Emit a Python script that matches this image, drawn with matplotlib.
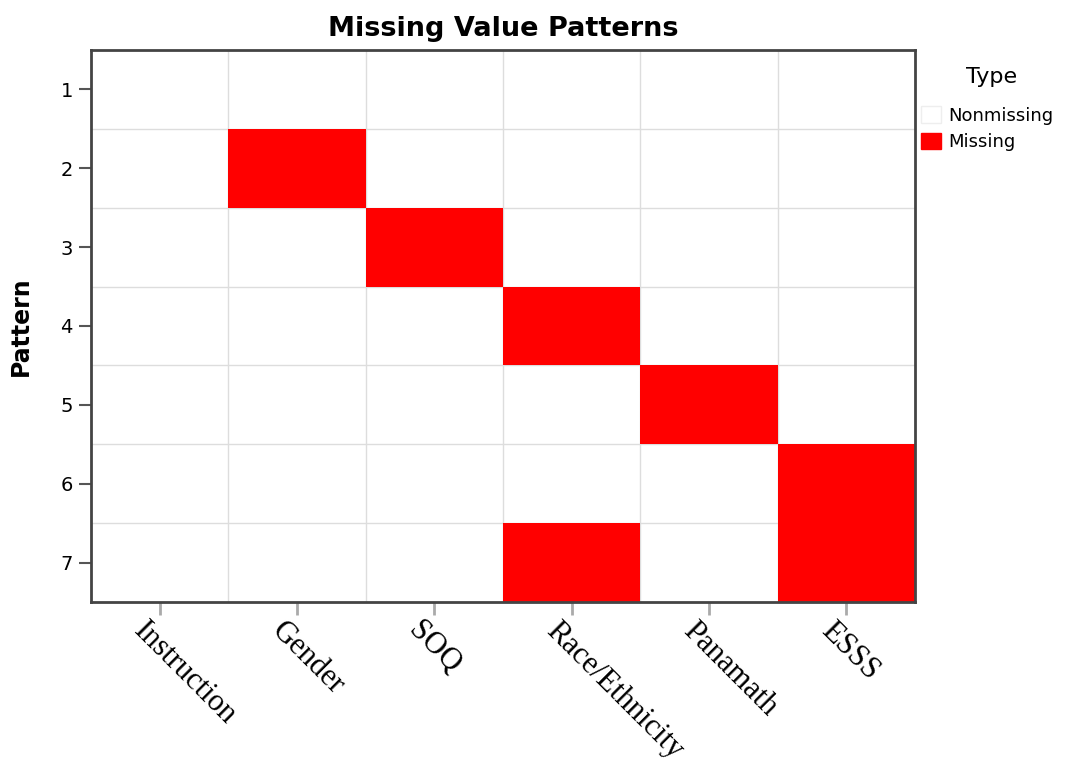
import matplotlib.pyplot as plt
import numpy as np
from matplotlib.colors import ListedColormap
from matplotlib.patches import Patch
import matplotlib.transforms as mtransforms

variables = ['Instruction', 'Gender', 'SOQ', 'Race/Ethnicity', 'Panamath', 'ESSS']
patterns = [1, 2, 3, 4, 5, 6, 7]
# 1 = missing, 0 = nonmissing
missing = [
    [0, 0, 0, 0, 0, 0],
    [0, 1, 0, 0, 0, 0],
    [0, 0, 1, 0, 0, 0],
    [0, 0, 0, 1, 0, 0],
    [0, 0, 0, 0, 1, 0],
    [0, 0, 0, 0, 0, 1],
    [0, 0, 0, 1, 0, 1],
]

fig = plt.figure(figsize=(10.73, 7.64), dpi=100)
ax = fig.add_axes([0.0848, 0.212, 0.768, 0.7226])

# only missing cells are drawn, so grid lines show through the white ones
data = np.ma.masked_equal(np.array(missing), 0)
cmap = ListedColormap(['#ff0000'])
ax.pcolormesh(np.arange(len(variables) + 1), np.arange(len(patterns) + 1) + 0.5,
              data, cmap=cmap, vmin=0, vmax=1, zorder=2)
ax.set_xlim(0, len(variables))
ax.set_ylim(len(patterns) + 0.5, 0.5)

# grid at cell boundaries
ax.set_xticks(np.arange(1, len(variables)), minor=True)
ax.set_yticks(np.arange(1, len(patterns)) + 0.5, minor=True)
ax.grid(which='minor', color='#dddddd', linewidth=1)
ax.tick_params(which='minor', length=0)
ax.set_axisbelow(True)

# x tick labels drawn as texts so they can be nudged left of the ticks
ax.set_xticks(np.arange(len(variables)) + 0.5)
ax.set_xticklabels([])
ax.tick_params(axis='x', length=9, width=2, color='#aaaaaa')
trans = ax.get_xaxis_transform() + mtransforms.ScaledTranslation(
    -0.11, -0.14, fig.dpi_scale_trans)
for i, v in enumerate(variables):
    ax.text(i + 0.5, 0, v, transform=trans, rotation=-45, ha='left', va='top',
            rotation_mode='anchor', fontfamily='Liberation Serif', fontsize=22)

ax.set_yticks(patterns)
ax.set_yticklabels([str(p) for p in patterns], fontsize=14)
ax.tick_params(axis='y', length=9, width=1.5, color='#555555', pad=4)

for s in ax.spines.values():
    s.set_color('#444444')
    s.set_linewidth(2)
    s.set_zorder(3)

ax.set_title('Missing Value Patterns', fontsize=19.5, fontweight='bold', pad=10)
ax.set_ylabel('Pattern', fontsize=17, fontweight='bold', labelpad=20)

handles = [Patch(facecolor='white', edgecolor='#eeeeee', label='Nonmissing'),
           Patch(facecolor='#ff0000', edgecolor='#ff0000', label='Missing')]
fig.text(0.9245, 0.899, 'Type', fontsize=16, ha='center', va='center')
leg = fig.legend(handles=handles, loc='upper left',
                 bbox_to_anchor=(0.843, 0.882), frameon=False, fontsize=13,
                 handlelength=1.1, handleheight=1.0,
                 handletextpad=0.4, labelspacing=0.45)

plt.savefig('out.png', dpi=100)
